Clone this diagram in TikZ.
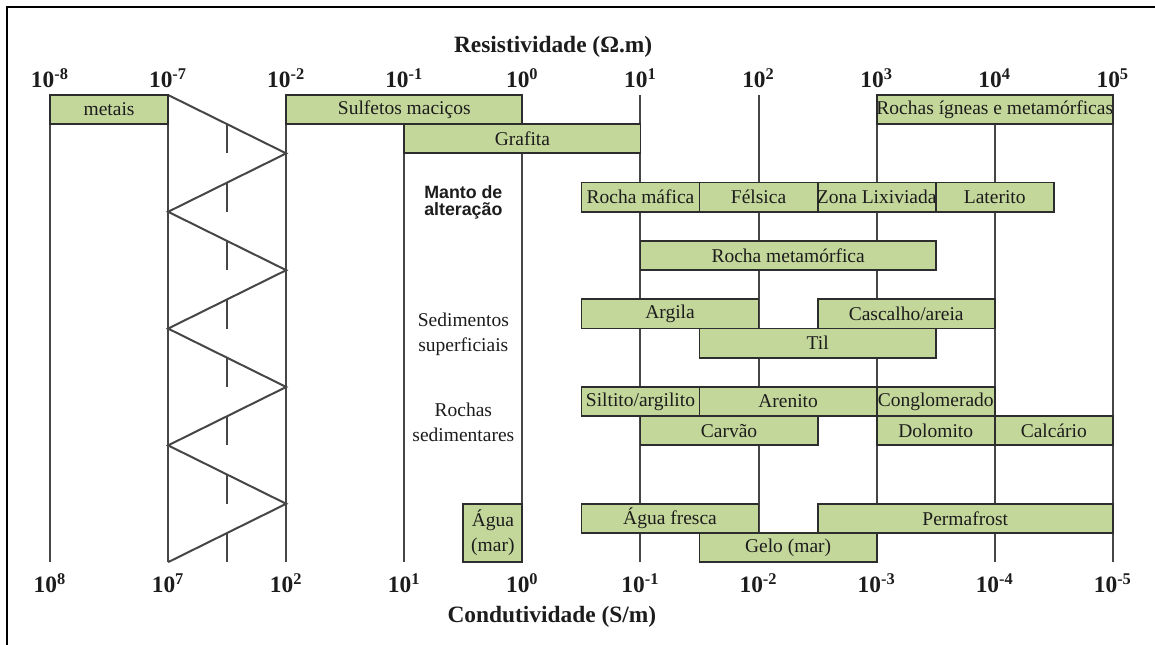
\documentclass[tikz,border=0pt]{standalone}
\usepackage{fontspec}
\setmainfont{Liberation Serif}
\newfontfamily\arialfont{Liberation Sans}
\usepackage{tikz}

\definecolor{verdefaixa}{RGB}{196,215,155}
\definecolor{linhagrade}{RGB}{70,70,70}
\definecolor{bordafaixa}{RGB}{45,45,45}
\definecolor{textofaixa}{RGB}{28,28,28}

\tikzset{
	grade/.style={draw=linhagrade, line width=1pt},
	faixa/.style={draw=bordafaixa, fill=verdefaixa, line width=0.9pt},
	rotulo/.style={text=textofaixa, font=\fontsize{9.75}{12.5}\selectfont, inner sep=0pt},
	eixo/.style={anchor=base, text=textofaixa, font=\fontsize{11.7}{13}\selectfont\bfseries, inner sep=0pt}
}

\begin{document}
\begin{tikzpicture}[x=59.05pt, y=-14.6pt]
	\useasboundingbox (-0.4234, -3.2534) rectangle (9.3568, 18.8356);
	\draw[line width=0.75pt] (-0.364, 18.8356) -- (-0.364, -3.014) -- (9.3568, -3.014);

	%% titulos
	\node[eixo] (resist) at (4.26, -1.47) {Resistividade (Ω.m)};
	\node[eixo] (condut) at (4.25, 18.05) {Condutividade (S/m)};

	\node[eixo] (r0) at (0, -0.24) {10\textsuperscript{-8}};
	\node[eixo] (r1) at (1, -0.24) {10\textsuperscript{-7}};
	\node[eixo] (r2) at (2, -0.24) {10\textsuperscript{-2}};
	\node[eixo] (r3) at (3, -0.24) {10\textsuperscript{-1}};
	\node[eixo] (r4) at (4, -0.24) {10\textsuperscript{0}};
	\node[eixo] (r5) at (5, -0.24) {10\textsuperscript{1}};
	\node[eixo] (r6) at (6, -0.24) {10\textsuperscript{2}};
	\node[eixo] (r7) at (7, -0.24) {10\textsuperscript{3}};
	\node[eixo] (r8) at (8, -0.24) {10\textsuperscript{4}};
	\node[eixo] (r9) at (9, -0.24) {10\textsuperscript{5}};

	\node[eixo] (c0) at (0, 17.05) {10\textsuperscript{8}};
	\node[eixo] (c1) at (1, 17.05) {10\textsuperscript{7}};
	\node[eixo] (c2) at (2, 17.05) {10\textsuperscript{2}};
	\node[eixo] (c3) at (3, 17.05) {10\textsuperscript{1}};
	\node[eixo] (c4) at (4, 17.05) {10\textsuperscript{0}};
	\node[eixo] (c5) at (5, 17.05) {10\textsuperscript{-1}};
	\node[eixo] (c6) at (6, 17.05) {10\textsuperscript{-2}};
	\node[eixo] (c7) at (7, 17.05) {10\textsuperscript{-3}};
	\node[eixo] (c8) at (8, 17.05) {10\textsuperscript{-4}};
	\node[eixo] (c9) at (9, 17.05) {10\textsuperscript{-5}};

	\draw[grade] (0, 0) -- (0, 16);
	\draw[grade] (1, 0) -- (1, 16);
	\draw[grade] (2, 0) -- (2, 16);
	\draw[grade] (3, 0) -- (3, 16);
	\draw[grade] (4, 0) -- (4, 16);
	\draw[grade] (5, 0) -- (5, 16);
	\draw[grade] (6, 0) -- (6, 16);
	\draw[grade] (7, 0) -- (7, 16);
	\draw[grade] (8, 0) -- (8, 16);
	\draw[grade] (9, 0) -- (9, 16);

	\draw[grade] (1, 0) -- (2, 2) -- (1, 4) -- (2, 6) -- (1, 8) -- (2, 10) -- (1, 12) -- (2, 14) -- (1, 16);
	\draw[grade, dash pattern=on 14.6pt off 14.6pt] (1.5, 1) -- (1.5, 16);

	\draw[faixa] (0, 0) rectangle (1, 1) node[rotulo, midway] (metais) {metais};
	\draw[faixa] (2, 0) rectangle (4, 1) node[rotulo, midway] (sulfetos) {Sulfetos maciços};
	\draw[faixa] (7, 0) rectangle (9, 1) node[rotulo, midway] (igneas) {Rochas ígneas e metamórficas};
	\draw[faixa] (3, 1) rectangle (5, 2) node[rotulo, midway] (grafita) {Grafita};

	\draw[faixa] (4.5, 3) rectangle (5.5, 4) node[rotulo, midway] (mafica) {Rocha máfica};
	\draw[faixa] (5.5, 3) rectangle (6.5, 4) node[rotulo, midway] (felsica) {Félsica};
	\draw[faixa] (6.5, 3) rectangle (7.5, 4) node[rotulo, midway] (lixiviada) {Zona Lixiviada};
	\draw[faixa] (7.5, 3) rectangle (8.5, 4) node[rotulo, midway] (laterito) {Laterito};
	\draw[faixa] (5, 5) rectangle (7.5, 6) node[rotulo, midway] (metamorfica) {Rocha metamórfica};

	\draw[faixa] (4.5, 7) rectangle (6, 8) node[rotulo, midway] (argila) {Argila};
	\draw[faixa] (6.5, 7) rectangle (8, 8) node[rotulo, midway] (cascalho) {Cascalho/areia};
	\draw[faixa] (5.5, 8) rectangle (7.5, 9) node[rotulo, midway] (til) {Til};

	\draw[faixa] (4.5, 10) rectangle (5.5, 11) node[rotulo, midway] (siltito) {Siltito/argilito};
	\draw[faixa] (5.5, 10) rectangle (7, 11) node[rotulo, midway] (arenito) {Arenito};
	\draw[faixa] (7, 10) rectangle (8, 11) node[rotulo, midway] (conglomerado) {Conglomerado};
	\draw[faixa] (5, 11) rectangle (6.5, 12) node[rotulo, midway] (carvao) {Carvão};
	\draw[faixa] (7, 11) rectangle (8, 12) node[rotulo, midway] (dolomito) {Dolomito};
	\draw[faixa] (8, 11) rectangle (9, 12) node[rotulo, midway] (calcario) {Calcário};

	\draw[faixa] (3.5, 14) rectangle (4, 16) node[rotulo, midway, align=center] (aguamar) {Água\\(mar)};
	\draw[faixa] (4.5, 14) rectangle (6, 15) node[rotulo, midway] (aguafresca) {Água fresca};
	\draw[faixa] (6.5, 14) rectangle (9, 15) node[rotulo, midway] (permafrost) {Permafrost};
	\draw[faixa] (5.5, 15) rectangle (7, 16) node[rotulo, midway] (gelo) {Gelo (mar)};

	\node[rotulo, align=center, font=\arialfont\fontsize{8.9}{8.5}\selectfont\bfseries] (manto) at (3.5, 3.68) {Manto de\\alteração};
	\node[rotulo, align=center] (sedimentos) at (3.5, 8.18) {Sedimentos\\superficiais};
	\node[rotulo, align=center] (rochassed) at (3.5, 11.2) {Rochas\\sedimentares};
\end{tikzpicture}
\end{document}
